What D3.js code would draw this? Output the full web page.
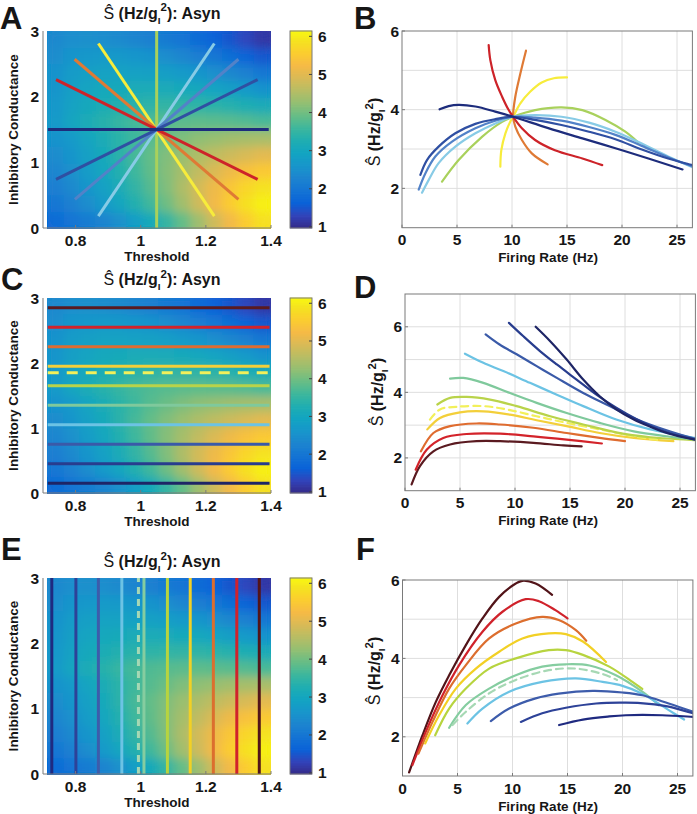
<!DOCTYPE html>
<html><head><meta charset="utf-8">
<script src="https://cdn.jsdelivr.net/npm/d3@7"></script>
<style>
body{margin:0;background:#fff;}
svg text{font-family:"Liberation Sans",Arial,sans-serif;font-weight:bold;fill:#161616;}
</style></head><body>
<svg id="fig" width="697" height="814"></svg>
<script>
// ---------- colour map (parula) ----------
const parulaStops = ["#352a87","#3243ba","#0a62d8","#1474d4","#1d84cf","#1896cb","#12a4c2","#1faeb1","#3db79d","#67bd86","#93bf73","#b7bd64","#d9ba56","#f6ba46","#fbcd30","#f5e31f","#f8f812"];
const parulaPos = [0,4,8,12,16,20,24,28,32,36,40,44,48,52,56,60,63];
const colorDomain = [0.97, 6.14];

// ---------- heat map of S-hat over (threshold, inhibitory conductance) ----------
const heatThreshold = [0.739,0.788,0.836,0.885,0.934,0.982,1.031,1.079,1.128,1.177,1.225,1.274,1.322,1.371];
const heatConductance = [0.125,0.375,0.625,0.875,1.125,1.375,1.625,1.875,2.125,2.375,2.625,2.875];
const heatS = [
  [1.80,1.98,2.12,2.28,2.50,2.80,3.12,3.50,3.90,4.35,4.80,5.20,5.55,5.85],
  [2.02,2.20,2.45,2.70,2.98,3.30,3.62,3.98,4.38,4.80,5.20,5.55,5.85,6.05],
  [2.18,2.38,2.60,2.85,3.15,3.45,3.78,4.12,4.50,4.85,5.15,5.45,5.70,5.88],
  [2.32,2.50,2.75,3.00,3.30,3.58,3.88,4.15,4.42,4.68,4.92,5.15,5.35,5.50],
  [2.42,2.60,2.85,3.10,3.38,3.65,3.90,4.12,4.32,4.50,4.65,4.78,4.90,5.02],
  [2.55,2.70,2.95,3.18,3.40,3.60,3.80,3.95,4.10,4.22,4.30,4.38,4.43,4.45],
  [2.70,2.98,3.18,3.36,3.52,3.65,3.74,3.79,3.83,3.85,3.84,3.81,3.76,3.68],
  [2.65,2.90,3.05,3.20,3.30,3.38,3.44,3.47,3.46,3.44,3.40,3.34,3.25,3.15],
  [2.60,2.83,2.95,3.06,3.12,3.16,3.16,3.14,3.10,3.03,2.94,2.83,2.70,2.55],
  [2.55,2.72,2.83,2.89,2.90,2.88,2.85,2.79,2.70,2.60,2.48,2.34,2.20,2.02],
  [2.45,2.60,2.66,2.70,2.68,2.62,2.55,2.45,2.32,2.17,2.02,1.85,1.68,1.52],
  [2.38,2.48,2.50,2.47,2.40,2.30,2.20,2.08,1.95,1.80,1.66,1.50,1.33,1.17]
];

// ---------- ticks ----------
const colorbarTicks = [1,2,3,4,5,6];
const thresholdTicks = [0.8,1,1.2,1.4];
const thresholdTickLabels = ["0.8","1","1.2","1.4"];
const conductanceTicks = [0,1,2,3];
const rateTicks = [0,5,10,15,20,25];
const sensTicks = [2,4,6];

// ---------- panel A: lines through (1.05, 1.5) ----------
const aStart = [[1.049,0],[0.870,2.81],[0.797,2.57],[0.740,2.26],[0.870,0.18],[0.798,0.437],[0.740,0.74],[0.715,1.5]];
const aEnd   = [[1.049,3],[1.226,0.18],[1.300,0.437],[1.359,0.74],[1.226,2.81],[1.300,2.57],[1.359,2.26],[1.393,1.5]];
const aColors = ["#a9d15c","#f7ec3c","#df7a35","#cd2329","#88cbe6","#5282c8","#2f4fa2","#1d2c7c"];

// ---------- panel B: S-hat vs firing rate along those lines ----------
const bGreen = [[3.64,2.17],[5.15,2.72],[7.27,3.31],[9.1,3.69],[10.1,3.82],[12.1,3.99],[14.5,4.06],[16.4,3.99],[18.5,3.74],[20.3,3.44],[21.5,3.16]];
const bYellow = [[8.94,2.55],[9.03,2.97],[9.4,3.4],[9.85,3.7],[10.1,3.82],[10.76,4.16],[11.67,4.46],[12.7,4.69],[13.8,4.8],[15.0,4.82]];
const bOrange = [[13.24,2.61],[11.8,2.89],[10.9,3.23],[10.3,3.57],[10.1,3.82],[10.3,4.33],[10.76,4.92],[11.27,5.5]];
const bRed = [[7.88,5.64],[8.03,5.26],[8.48,4.75],[9.1,4.33],[9.7,3.99],[10.1,3.82],[10.9,3.53],[12.1,3.23],[13.9,2.97],[16.4,2.76],[18.2,2.59]];
const bLightBlue = [[1.82,1.89],[2.42,2.21],[3.33,2.64],[4.85,3.06],[6.67,3.4],[8.48,3.65],[10.1,3.82],[12.1,3.86],[14.5,3.82],[17,3.67],[19.4,3.44],[21.8,3.14],[24.2,2.81],[26.3,2.55],[27,2.47]];
const bMedBlue = [[1.52,1.97],[2.12,2.38],[3.03,2.81],[4.55,3.19],[6.67,3.53],[8.48,3.72],[10.1,3.82],[12.1,3.8],[14.5,3.72],[17,3.56],[19.4,3.36],[21.8,3.08],[24.2,2.79],[26.3,2.57],[27,2.5]];
const bDarkBlue = [[1.67,2.34],[2.27,2.72],[3.33,3.06],[4.85,3.4],[6.67,3.64],[8.48,3.76],[10.1,3.82],[12.1,3.74],[14.5,3.61],[17,3.44],[19.4,3.25],[21.8,2.99],[24.2,2.76],[26.3,2.6],[27,2.55]];
const bNavy = [[3.42,4.01],[4.24,4.09],[5.15,4.12],[6.67,4.08],[8.48,3.95],[10.1,3.82],[13.3,3.53],[16.4,3.27],[19.4,3.02],[22.4,2.76],[25.5,2.48]];

// ---------- panel C: fixed conductance rows ----------
const cConductance = [0.15,0.45,0.75,1.05,1.35,1.65,1.85,1.95,2.25,2.55,2.85];
const cDashed = [false,false,false,false,false,false,true,false,false,false,false];
const cColors = ["#1e2566","#283d8e","#3a5aa8","#6cc3e4","#7fc99c","#b9d34a","#f2f05a","#f3cf3a","#df6c30","#d3232a","#5a1a20"];

// ---------- panel D: S-hat vs rate for each row ----------
const dG015 = [[11.88,6.0],[13.2,5.56],[14.7,5.0],[16.2,4.39],[17.7,3.88],[19.2,3.48],[20.8,3.17],[22.3,2.95],[23.8,2.76],[25.3,2.63],[26.4,2.56],[27,2.52]];
const dG045 = [[9.45,6.12],[10.76,5.71],[12.27,5.26],[13.8,4.85],[15.6,4.39],[17.4,3.93],[19.2,3.53],[21.1,3.17],[22.9,2.89],[24.7,2.69],[26.4,2.56],[27,2.52]];
const dG075 = [[7.33,5.77],[8.6,5.46],[10.15,5.16],[11.97,4.8],[13.8,4.44],[16.2,3.98],[18.6,3.58],[21.1,3.17],[23.5,2.87],[26.4,2.58],[27,2.54]];
const dG105 = [[5.45,5.18],[7.12,4.9],[8.94,4.65],[11.36,4.29],[13.8,3.93],[16.2,3.58],[19.2,3.17],[22.3,2.87],[26.4,2.61],[27,2.57]];
const dG135 = [[4.1,4.42],[5.3,4.44],[7.12,4.29],[9.55,3.98],[11.97,3.68],[14.7,3.37],[17.7,3.07],[20.8,2.81],[23.8,2.66],[26.4,2.56],[27,2.54]];
const dG165 = [[2.94,3.63],[4.1,3.83],[5.6,3.86],[7.73,3.78],[10.15,3.58],[13.2,3.27],[16.2,3.02],[19.2,2.78],[22.3,2.63],[24.5,2.58],[26.4,2.54],[27,2.52]];
const dG185 = [[2.27,3.17],[3.18,3.48],[4.7,3.56],[7.12,3.58],[9.24,3.48],[11.97,3.27],[14.7,3.07],[17.7,2.87],[20.8,2.66],[23.2,2.54]];
const dG195 = [[2.03,2.87],[3.18,3.22],[5.0,3.39],[7.12,3.42],[9.55,3.32],[11.97,3.15],[14.7,2.97],[17.7,2.76],[20.8,2.61],[24.4,2.51]];
const dG225 = [[1.45,2.2],[2.58,2.76],[4.1,2.97],[6.5,3.05],[8.64,3.02],[11.67,2.92],[14.7,2.76],[17.7,2.61],[20.0,2.51]];
const dG255 = [[0.97,1.64],[1.97,2.25],[3.48,2.61],[5.6,2.73],[8.64,2.74],[11.67,2.66],[14.7,2.56],[17.9,2.44]];
const dG285 = [[0.6,1.19],[1.36,1.75],[2.58,2.2],[4.1,2.41],[6.5,2.51],[8.64,2.51],[11.67,2.46],[14.4,2.38],[16.06,2.35]];

// ---------- panel E: fixed threshold columns ----------
const eThreshold = [0.727,0.801,0.870,0.942,0.993,1.010,1.082,1.152,1.223,1.295,1.364];
const eDashed = [false,false,false,false,true,false,false,false,false,false,false];
const eColors = ["#1f2a80","#2d4298","#3d5cab","#6cc3e4","#a6d8b4","#85cda0","#b7d43f","#f2d025","#dc6e2e","#d0222b","#521419"];

// ---------- panel F: S-hat vs rate for each column ----------
const fT073 = [[14.24,2.3],[16.4,2.44],[18.8,2.52],[20.3,2.55],[23.6,2.55],[26.4,2.51],[27,2.5]];
const fT080 = [[10.76,2.38],[12.7,2.6],[14.85,2.74],[17.6,2.85],[20.3,2.87],[22.4,2.84],[24.2,2.77],[26.4,2.6],[27,2.55]];
const fT087 = [[8.03,2.4],[9.7,2.72],[12.1,2.98],[14.2,3.1],[17.3,3.17],[20,3.13],[21.8,3.06],[24.2,2.85],[26.4,2.64],[27,2.58]];
const fT094 = [[5.9,2.34],[7.27,2.72],[9.7,3.15],[12.7,3.4],[15.76,3.49],[18.2,3.4],[20,3.3],[21.8,3.1],[24.2,2.68],[25.6,2.44]];
const fT099 = [[4.55,2.3],[5.76,2.64],[7.88,3.11],[10.3,3.45],[13.3,3.7],[15.76,3.74],[18.2,3.6],[19.5,3.45]];
const fT101 = [[4.24,2.23],[5.76,2.81],[7.88,3.23],[10.3,3.57],[12.7,3.79],[14.85,3.85],[17,3.82],[19.4,3.57],[21.8,3.15],[23.3,2.81]];
const fT108 = [[2.97,2.04],[4.24,2.72],[5.76,3.23],[7.88,3.74],[10.3,4.0],[13.3,4.21],[14.85,4.21],[16.4,4.09],[18.8,3.79],[20.9,3.4],[21.8,3.22]];
const fT115 = [[2.06,1.83],[3.33,2.55],[4.85,3.23],[6.67,3.74],[8.79,4.17],[10.9,4.51],[13.3,4.64],[14.85,4.62],[16.4,4.43],[18.5,3.91]];
const fT122 = [[1.45,1.57],[2.73,2.38],[4.24,3.23],[5.76,3.83],[7.88,4.51],[10.3,4.89],[12.7,5.06],[14.2,4.98],[15.76,4.72],[16.7,4.45]];
const fT129 = [[0.9,1.28],[2.12,2.13],[3.64,3.06],[5.15,3.83],[7.27,4.68],[9.09,5.19],[11.2,5.51],[12.4,5.46],[13.9,5.23],[15.0,5.02]];
const fT136 = [[0.6,1.09],[1.82,2.04],[3.03,2.89],[4.24,3.57],[5.76,4.34],[7.27,5.02],[8.79,5.57],[10.3,5.91],[10.9,5.98],[12.1,5.91],[13.6,5.62]];

// =================== drawing ===================
const svg = d3.select("#fig");
const defs = svg.append("defs");
const filt = defs.append("filter").attr("id","smooth").attr("x",0).attr("y",0).attr("width",1).attr("height",1);
filt.append("feGaussianBlur").attr("stdDeviation",5);
filt.append("feComponentTransfer").append("feFuncA").attr("type","table").attr("tableValues","1 1");

const colorScale = d3.scaleLinear()
  .domain(parulaPos.map(p => colorDomain[0] + (colorDomain[1]-colorDomain[0])*p/63))
  .range(parulaStops).clamp(true);

const AXIS = "#7a7a7a", GRID = "#dedede";

function sLabel(t, size, suffix){
  t.append("tspan").attr("font-weight","normal").text("Ŝ");
  t.append("tspan").text(suffix === undefined ? " (Hz/g" : "  (Hz/g");
  t.append("tspan").attr("font-size", size*0.62).attr("dy", size*0.32).text("I");
  t.append("tspan").attr("font-size", size*0.72).attr("dy", -size*0.78).text("2");
  t.append("tspan").attr("dy", size*0.46).text(")" + (suffix === undefined ? ": Asyn" : ""));
}

function letter(x, y, s){
  svg.append("text").attr("x",x).attr("y",y).attr("font-size",31).text(s);
}

function heatPanel(cfg){
  const x = d3.scaleLinear().domain([0.7,1.4]).range([43,271]);
  const y = d3.scaleLinear().domain([0,3]).range([cfg.bottom, cfg.top]);
  const g = svg.append("g");
  const dt = heatThreshold[1]-heatThreshold[0];
  const dg = heatConductance[1]-heatConductance[0];
  const cells = [];
  heatS.forEach((row,j)=>row.forEach((v,i)=>cells.push({t:heatThreshold[i], c:heatConductance[j], v})));
  g.append("g").attr("filter","url(#smooth)")
    .selectAll("rect").data(cells).join("rect")
    .attr("x", d=>x(d.t-dt/2)).attr("y", d=>y(d.c+dg/2))
    .attr("width", x(dt)-x(0)+0.7).attr("height", y(0)-y(dg)+0.7)
    .attr("fill", d=>colorScale(d.v));
  const xmin = heatThreshold[0]-dt/2, xmax = heatThreshold[heatThreshold.length-1]+dt/2;
  cfg.overlay(g, x, y, xmin, xmax);
  // axes
  g.append("line").attr("x1",43).attr("x2",43).attr("y1",cfg.top).attr("y2",cfg.bottom).attr("stroke",AXIS);
  g.append("line").attr("x1",43).attr("x2",271).attr("y1",cfg.bottom).attr("y2",cfg.bottom).attr("stroke",AXIS);
  g.selectAll(".yt").data(conductanceTicks).join("text")
    .attr("x",39).attr("y",d=>y(d)+5.5).attr("text-anchor","end").attr("font-size",15.5).text(d=>d);
  g.selectAll(".xt").data(thresholdTicks).join("text")
    .attr("x",d=>x(d)).attr("y",cfg.bottom+18).attr("text-anchor","middle").attr("font-size",15.5)
    .text((d,i)=>thresholdTickLabels[i]);
  g.selectAll(".xtm").data(thresholdTicks).join("line")
    .attr("x1",d=>x(d)).attr("x2",d=>x(d)).attr("y1",cfg.bottom).attr("y2",cfg.bottom-3).attr("stroke",AXIS);
  g.append("text").attr("x",157).attr("y",cfg.bottom+33).attr("text-anchor","middle").attr("font-size",13.5).text("Threshold");
  g.append("text").attr("transform",`translate(18,${(cfg.top+cfg.bottom)/2}) rotate(-90)`)
    .attr("text-anchor","middle").attr("font-size",13.5).text("Inhibitory Conductance");
  const t = g.append("text").attr("x",162).attr("y",cfg.titleY).attr("text-anchor","middle").attr("font-size",16);
  sLabel(t,16);
  // colorbar
  const cy = d3.scaleLinear().domain(colorDomain).range([cfg.bottom, cfg.top]);
  const n = 120, step = (colorDomain[1]-colorDomain[0])/n;
  const vals = d3.range(n).map(i=>colorDomain[0]+i*step);
  g.selectAll(".cb").data(vals).join("rect")
    .attr("x",290).attr("width",22).attr("y",d=>cy(d+step)-0.4).attr("height",cy(0)-cy(step)+0.8)
    .attr("fill",d=>colorScale(d+step/2));
  g.append("rect").attr("x",290).attr("y",cfg.top).attr("width",22).attr("height",cfg.bottom-cfg.top)
    .attr("fill","none").attr("stroke",AXIS);
  g.selectAll(".cbt").data(colorbarTicks).join("line")
    .attr("x1",309).attr("x2",312).attr("y1",d=>cy(d)).attr("y2",d=>cy(d)).attr("stroke","#444");
  g.selectAll(".cbl").data(colorbarTicks).join("text")
    .attr("x",318).attr("y",d=>cy(d)+5.5).attr("font-size",15.5).text(d=>d);
}

const lineGen = (x,y) => d3.line().x(d=>x(d[0])).y(d=>y(d[1])).curve(d3.curveCatmullRom.alpha(0.5));

function linePanel(cfg){
  const x = d3.scaleLinear().domain([0,26.4]).range([cfg.x0, cfg.x1]);
  const y = d3.scaleLinear().domain(cfg.yDomain).range([cfg.yb, cfg.yt]);
  const g = svg.append("g");
  g.selectAll(".gx").data(rateTicks.filter(v=>v>0)).join("line")
    .attr("x1",d=>x(d)).attr("x2",d=>x(d)).attr("y1",cfg.yt).attr("y2",cfg.yb).attr("stroke",GRID);
  g.selectAll(".gy").data(d3.range(cfg.yDomain[0]+1, cfg.yDomain[1])).join("line")
    .attr("x1",cfg.x0).attr("x2",cfg.x1).attr("y1",d=>y(d)).attr("y2",d=>y(d)).attr("stroke",GRID);
  defs.append("clipPath").attr("id",cfg.id).append("rect")
    .attr("x",cfg.x0).attr("y",cfg.yt).attr("width",cfg.x1-cfg.x0).attr("height",cfg.yb-cfg.yt);
  const lg = g.append("g").attr("clip-path",`url(#${cfg.id})`);
  const line = lineGen(x,y);
  cfg.series.forEach((s,i)=>{
    lg.append("path").attr("d",line(s)).attr("fill","none").attr("stroke",cfg.colors[i])
      .attr("stroke-width",2.2).attr("stroke-linecap","round")
      .attr("stroke-dasharray", cfg.dashed && cfg.dashed[i] ? "7,5" : null);
  });
  g.append("rect").attr("x",cfg.x0).attr("y",cfg.yt).attr("width",cfg.x1-cfg.x0).attr("height",cfg.yb-cfg.yt)
    .attr("fill","none").attr("stroke",AXIS);
  g.selectAll(".xt").data(rateTicks).join("text")
    .attr("x",d=>x(d)).attr("y",cfg.yb+17.5).attr("text-anchor","middle").attr("font-size",15.5).text(d=>d);
  g.selectAll(".yt").data(sensTicks).join("text")
    .attr("x",cfg.x0-3).attr("y",d=>y(d)+5.5).attr("text-anchor","end").attr("font-size",15.5).text(d=>d);
  g.selectAll(".xtm").data(rateTicks).join("line")
    .attr("x1",d=>x(d)).attr("x2",d=>x(d)).attr("y1",cfg.yb).attr("y2",cfg.yb-3).attr("stroke",AXIS);
  g.selectAll(".ytm").data(sensTicks).join("line")
    .attr("x1",cfg.x0).attr("x2",cfg.x0+3).attr("y1",d=>y(d)).attr("y2",d=>y(d)).attr("stroke",AXIS);
  g.append("text").attr("x",548).attr("y",cfg.yb+34.5).attr("text-anchor","middle").attr("font-size",13.5).text("Firing Rate (Hz)");
  const t = g.append("text").attr("transform",`translate(${cfg.ylx},${cfg.yly}) rotate(-90)`)
    .attr("text-anchor","middle").attr("font-size",16);
  sLabel(t,16,true);
}

// ---- A ----
heatPanel({top:31,bottom:228,titleY:18.5,overlay:(g,x,y)=>{
  aStart.forEach((s,i)=>{
    g.append("line").attr("x1",x(s[0])).attr("y1",y(s[1])).attr("x2",x(aEnd[i][0])).attr("y2",y(aEnd[i][1]))
      .attr("stroke",aColors[i]).attr("stroke-width",3);
  });
}});
letter(0,28.5,"A");
linePanel({id:"clipB",x0:402,x1:692.4,yDomain:[1,6],yb:227.7,yt:31,ylx:380,yly:132,
  series:[bGreen,bYellow,bOrange,bRed,bLightBlue,bMedBlue,bDarkBlue,bNavy],colors:aColors});
letter(354,28.5,"B");

// ---- C ----
heatPanel({top:298,bottom:493,titleY:285,overlay:(g,x,y,xmin,xmax)=>{
  cConductance.forEach((c,i)=>{
    g.append("line").attr("x1",x(xmin)).attr("x2",x(xmax)).attr("y1",y(c)).attr("y2",y(c))
      .attr("stroke",cColors[i]).attr("stroke-width",3.2)
      .attr("stroke-dasharray",cDashed[i]?"11,8":null);
  });
}});
letter(1,290,"C");
linePanel({id:"clipD",x0:405,x1:695.4,yDomain:[1,7],yb:490.7,yt:294,ylx:383,yly:392,
  series:[dG285,dG255,dG225,dG195,dG185,dG165,dG135,dG105,dG075,dG045,dG015],
  colors:cColors.slice().reverse(),dashed:cDashed.slice().reverse()});
letter(354,298,"D");

// ---- E ----
heatPanel({top:578,bottom:774,titleY:567,overlay:(g,x,y)=>{
  eThreshold.forEach((t,i)=>{
    g.append("line").attr("x1",x(t)).attr("x2",x(t)).attr("y1",y(0)).attr("y2",y(3))
      .attr("stroke",eColors[i]).attr("stroke-width",3)
      .attr("stroke-dasharray",eDashed[i]?"7,5":null);
  });
}});
letter(1,560,"E");
linePanel({id:"clipF",x0:402.5,x1:692.9,yDomain:[1,6],yb:776,yt:580,ylx:380,yly:671,
  series:[fT136,fT129,fT122,fT115,fT108,fT101,fT099,fT094,fT087,fT080,fT073],
  colors:eColors.slice().reverse(),dashed:eDashed.slice().reverse()});
letter(356,560,"F");
</script>
</body></html>
